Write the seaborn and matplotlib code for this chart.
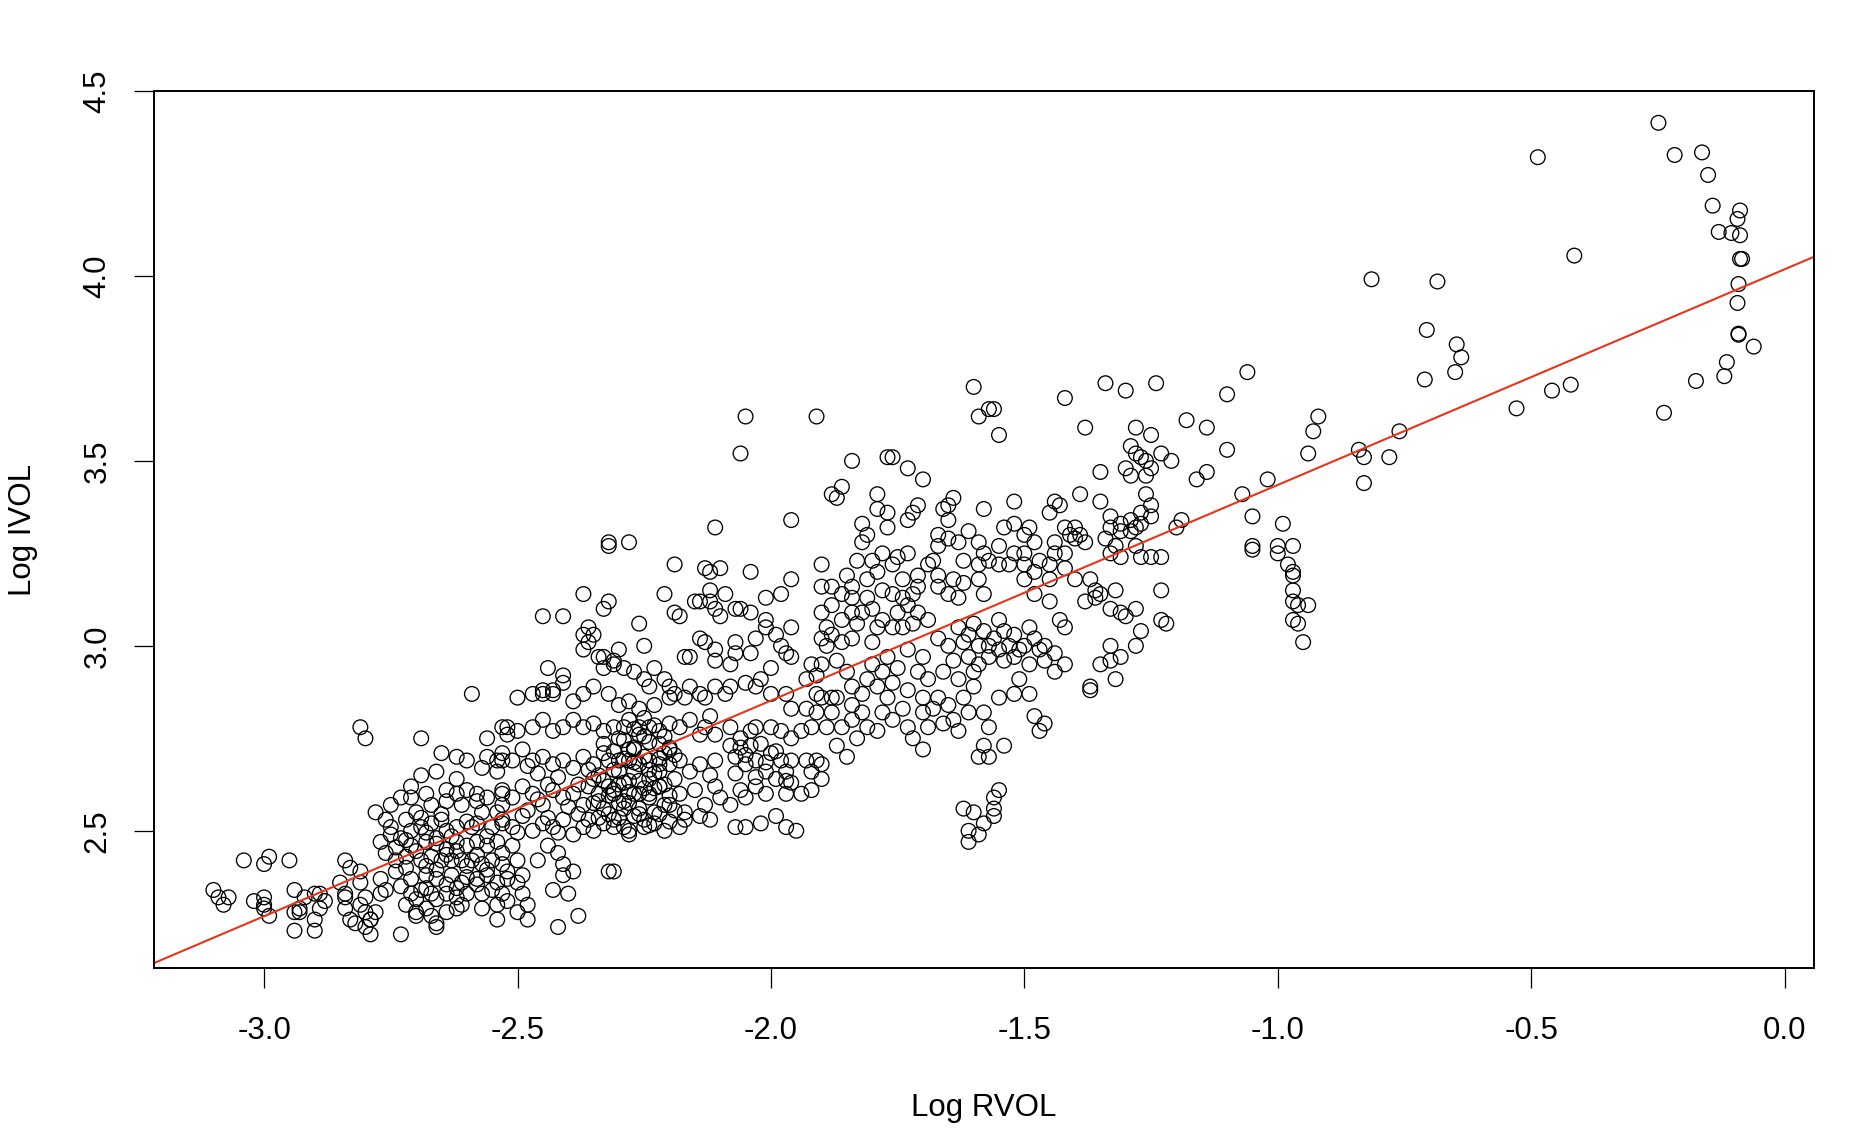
import numpy as np
import pandas as pd
import matplotlib
matplotlib.use("Agg")
import matplotlib.pyplot as plt
import seaborn as sns

# (log RVOL, log IVOL) pairs
left_tail = [
    (-3.10, 2.34), (-3.09, 2.32), (-3.08, 2.30), (-3.07, 2.32), (-3.04, 2.42),
    (-3.00, 2.41), (-2.99, 2.43), (-2.95, 2.42), (-3.02, 2.31), (-3.00, 2.32),
    (-3.00, 2.30), (-3.00, 2.29), (-2.99, 2.27), (-2.94, 2.34), (-2.94, 2.28),
    (-2.93, 2.28), (-2.94, 2.23), (-2.90, 2.23), (-2.92, 2.32), (-2.90, 2.33),
    (-2.89, 2.33), (-2.88, 2.31), (-2.89, 2.29), (-2.90, 2.26), (-2.93, 2.29),
    (-2.84, 2.42), (-2.83, 2.40), (-2.81, 2.39), (-2.81, 2.36), (-2.85, 2.36),
    (-2.84, 2.33), (-2.84, 2.32), (-2.84, 2.29), (-2.83, 2.26), (-2.82, 2.25),
    (-2.80, 2.32), (-2.81, 2.30), (-2.80, 2.28), (-2.79, 2.26), (-2.80, 2.24),
    (-2.79, 2.22), (-2.79, 2.26), (-2.78, 2.28), (-2.76, 2.34), (-2.77, 2.33),
    (-2.77, 2.37), (-2.73, 2.22), (-2.81, 2.78), (-2.80, 2.75),
]

low_blob = [
    (-2.59, 2.87), (-2.69, 2.75), (-2.56, 2.75), (-2.53, 2.78), (-2.52, 2.76),
    (-2.65, 2.71), (-2.62, 2.70), (-2.60, 2.69), (-2.56, 2.70), (-2.57, 2.67),
    (-2.54, 2.69), (-2.54, 2.66), (-2.53, 2.69), (-2.66, 2.66), (-2.69, 2.65),
    (-2.71, 2.62), (-2.62, 2.64), (-2.64, 2.61), (-2.62, 2.60), (-2.60, 2.61),
    (-2.58, 2.60), (-2.56, 2.59), (-2.53, 2.60), (-2.53, 2.57), (-2.75, 2.57),
    (-2.73, 2.59), (-2.71, 2.59), (-2.68, 2.60), (-2.67, 2.57), (-2.64, 2.58),
    (-2.61, 2.57), (-2.58, 2.58), (-2.57, 2.55), (-2.54, 2.55), (-2.78, 2.55),
    (-2.76, 2.53), (-2.75, 2.51), (-2.72, 2.53), (-2.70, 2.55), (-2.69, 2.51),
    (-2.67, 2.52), (-2.65, 2.53), (-2.64, 2.50), (-2.62, 2.51), (-2.59, 2.51),
    (-2.58, 2.52), (-2.55, 2.51), (-2.53, 2.52), (-2.77, 2.47), (-2.75, 2.49),
    (-2.73, 2.48), (-2.71, 2.50), (-2.71, 2.46), (-2.68, 2.47), (-2.66, 2.48),
    (-2.64, 2.45), (-2.62, 2.47), (-2.60, 2.46), (-2.58, 2.47), (-2.56, 2.46),
    (-2.54, 2.47), (-2.76, 2.44), (-2.74, 2.42), (-2.72, 2.43), (-2.69, 2.42),
    (-2.67, 2.43), (-2.65, 2.42), (-2.63, 2.42), (-2.61, 2.42), (-2.59, 2.42),
    (-2.57, 2.41), (-2.55, 2.42), (-2.53, 2.41), (-2.74, 2.39), (-2.72, 2.40),
    (-2.71, 2.37), (-2.68, 2.38), (-2.66, 2.37), (-2.63, 2.38), (-2.61, 2.36),
    (-2.58, 2.37), (-2.56, 2.38), (-2.54, 2.36), (-2.52, 2.37), (-2.73, 2.35),
    (-2.71, 2.33), (-2.69, 2.34), (-2.67, 2.33), (-2.64, 2.33), (-2.62, 2.32),
    (-2.60, 2.33), (-2.57, 2.33), (-2.55, 2.34), (-2.53, 2.33), (-2.72, 2.30),
    (-2.70, 2.28), (-2.68, 2.29), (-2.67, 2.27), (-2.66, 2.25), (-2.66, 2.24),
    (-2.64, 2.28), (-2.62, 2.29), (-2.61, 2.30), (-2.57, 2.29), (-2.54, 2.26),
    (-2.54, 2.30), (-2.70, 2.27),
    (-2.70, 2.315), (-2.68, 2.345), (-2.66, 2.315), (-2.64, 2.355),
    (-2.62, 2.345), (-2.60, 2.375), (-2.58, 2.355), (-2.56, 2.395),
    (-2.68, 2.405), (-2.66, 2.395), (-2.64, 2.435), (-2.62, 2.445),
    (-2.60, 2.405), (-2.58, 2.435), (-2.70, 2.445), (-2.72, 2.475),
    (-2.68, 2.495), (-2.66, 2.465), (-2.63, 2.485), (-2.60, 2.525),
    (-2.65, 2.545), (-2.69, 2.535), (-2.56, 2.485), (-2.74, 2.455),
]

mid_upper = [
    (-2.19, 3.22), (-2.13, 3.21), (-2.12, 3.20), (-2.10, 3.21), (-2.04, 3.20),
    (-1.96, 3.18), (-2.37, 3.14), (-2.32, 3.12), (-2.33, 3.10), (-2.21, 3.14),
    (-2.19, 3.09), (-2.18, 3.08), (-2.15, 3.12), (-2.14, 3.12), (-2.12, 3.15),
    (-2.12, 3.12), (-2.11, 3.10), (-2.09, 3.14), (-2.10, 3.08), (-2.07, 3.10),
    (-2.06, 3.10), (-2.04, 3.09), (-2.01, 3.13), (-2.01, 3.07), (-1.98, 3.14),
    (-1.99, 3.03), (-2.45, 3.08), (-2.41, 3.08), (-2.26, 3.06), (-2.25, 3.00),
    (-2.37, 3.03), (-2.36, 3.05), (-2.35, 3.03), (-2.36, 3.01), (-2.37, 2.99),
    (-2.34, 2.97), (-2.33, 2.97), (-2.31, 2.96), (-2.30, 2.99), (-2.33, 2.94),
    (-2.31, 2.95), (-2.44, 2.94), (-2.41, 2.92), (-2.41, 2.90), (-2.43, 2.87),
    (-2.45, 2.87), (-2.50, 2.86), (-2.29, 2.94), (-2.27, 2.93), (-2.25, 2.91),
    (-2.23, 2.94), (-2.21, 2.91), (-2.20, 2.89), (-2.24, 2.89), (-2.17, 2.97),
    (-2.16, 2.97), (-2.14, 3.02), (-2.13, 3.01), (-2.11, 2.96), (-2.11, 2.99),
    (-2.08, 2.95), (-2.07, 3.01), (-2.07, 2.98), (-2.04, 2.98), (-2.03, 3.02),
    (-2.01, 3.05), (-2.00, 2.94), (-1.98, 3.00), (-1.96, 3.05), (-1.96, 2.97),
    (-1.97, 2.98), (-1.92, 2.95), (-1.91, 2.92), (-1.93, 2.91),
    (-2.05, 3.62), (-1.91, 3.62), (-2.06, 3.52), (-1.96, 3.34), (-2.11, 3.32),
    (-2.32, 3.28), (-2.32, 3.27), (-2.28, 3.28),
]

mid_core = [
    (-2.47, 2.87), (-2.45, 2.88), (-2.43, 2.88), (-2.39, 2.85), (-2.37, 2.87),
    (-2.35, 2.89), (-2.32, 2.87), (-2.30, 2.84), (-2.28, 2.85), (-2.26, 2.83),
    (-2.23, 2.84), (-2.20, 2.86), (-2.19, 2.87), (-2.17, 2.86), (-2.16, 2.89),
    (-2.14, 2.87), (-2.13, 2.86), (-2.11, 2.89), (-2.09, 2.87), (-2.08, 2.89),
    (-2.05, 2.90), (-2.03, 2.89), (-2.02, 2.91), (-2.00, 2.87), (-1.97, 2.87),
    (-1.96, 2.83), (-1.93, 2.83), (-1.91, 2.87),
    (-2.52, 2.78), (-2.50, 2.77), (-2.47, 2.78), (-2.45, 2.80), (-2.43, 2.77),
    (-2.41, 2.78), (-2.39, 2.80), (-2.37, 2.78), (-2.35, 2.79), (-2.33, 2.77),
    (-2.31, 2.78), (-2.29, 2.78), (-2.28, 2.80), (-2.26, 2.76), (-2.24, 2.78),
    (-2.22, 2.77), (-2.20, 2.79), (-2.18, 2.78), (-2.16, 2.80), (-2.14, 2.76),
    (-2.13, 2.78), (-2.12, 2.81), (-2.11, 2.76), (-2.08, 2.78), (-2.06, 2.75),
    (-2.04, 2.77), (-2.03, 2.78), (-2.00, 2.78), (-1.98, 2.77), (-1.96, 2.75),
    (-1.94, 2.77), (-1.92, 2.78),
    (-2.53, 2.71), (-2.51, 2.69), (-2.49, 2.72), (-2.47, 2.69), (-2.45, 2.70),
    (-2.43, 2.68), (-2.41, 2.69), (-2.39, 2.67), (-2.37, 2.70), (-2.35, 2.68),
    (-2.34, 2.65), (-2.32, 2.69), (-2.30, 2.66), (-2.28, 2.69), (-2.27, 2.72),
    (-2.26, 2.68), (-2.24, 2.69), (-2.22, 2.66), (-2.21, 2.71), (-2.20, 2.68),
    (-2.18, 2.69), (-2.16, 2.66), (-2.14, 2.68), (-2.12, 2.65), (-2.11, 2.69),
    (-2.08, 2.73), (-2.07, 2.70), (-2.05, 2.68), (-2.04, 2.73), (-2.03, 2.69),
    (-2.01, 2.66), (-2.00, 2.71), (-1.98, 2.69), (-1.97, 2.66), (-1.96, 2.69),
    (-1.93, 2.69), (-1.92, 2.66),
    (-2.53, 2.61), (-2.51, 2.59), (-2.49, 2.62), (-2.47, 2.60), (-2.45, 2.57),
    (-2.43, 2.61), (-2.41, 2.59), (-2.39, 2.60), (-2.37, 2.57), (-2.36, 2.62),
    (-2.34, 2.60), (-2.33, 2.56), (-2.31, 2.61), (-2.29, 2.58), (-2.27, 2.60),
    (-2.26, 2.56), (-2.24, 2.59), (-2.22, 2.62), (-2.20, 2.57), (-2.18, 2.60),
    (-2.17, 2.55), (-2.15, 2.61), (-2.13, 2.57), (-2.11, 2.62), (-2.10, 2.59),
    (-2.08, 2.57), (-2.06, 2.61), (-2.05, 2.59), (-2.03, 2.62), (-2.01, 2.60),
    (-1.99, 2.64), (-1.97, 2.60), (-1.96, 2.63), (-1.94, 2.60), (-1.92, 2.61),
    (-2.31, 2.60), (-2.29, 2.63), (-2.27, 2.66), (-2.25, 2.70), (-2.24, 2.74),
    (-2.26, 2.78), (-2.28, 2.72), (-2.30, 2.69), (-2.32, 2.62), (-2.22, 2.62),
    (-2.21, 2.57), (-2.23, 2.55), (-2.25, 2.53), (-2.27, 2.54), (-2.29, 2.56),
    (-2.26, 2.60), (-2.24, 2.64), (-2.22, 2.68), (-2.20, 2.72), (-2.19, 2.64),
    (-2.30, 2.75), (-2.33, 2.71), (-2.35, 2.64), (-2.34, 2.58), (-2.36, 2.53),
    (-2.31, 2.53), (-2.28, 2.50), (-2.24, 2.60),
]

# the darkest part of the cloud, just under the fitted line
dense_core = [
    (-2.32, 2.545), (-2.30, 2.575), (-2.28, 2.605), (-2.26, 2.635),
    (-2.24, 2.665), (-2.22, 2.695), (-2.20, 2.725), (-2.21, 2.755),
    (-2.23, 2.785), (-2.25, 2.755), (-2.27, 2.725), (-2.29, 2.695),
    (-2.31, 2.665), (-2.33, 2.635), (-2.32, 2.595), (-2.30, 2.625),
    (-2.28, 2.575), (-2.26, 2.545), (-2.24, 2.515), (-2.22, 2.545),
    (-2.20, 2.595), (-2.21, 2.625), (-2.23, 2.655), (-2.25, 2.615),
    (-2.27, 2.685), (-2.29, 2.745), (-2.25, 2.805), (-2.22, 2.735),
    (-2.19, 2.705), (-2.19, 2.555), (-2.20, 2.525), (-2.34, 2.535),
    (-2.35, 2.575), (-2.36, 2.665), (-2.33, 2.735), (-2.31, 2.715),
    (-2.27, 2.775), (-2.23, 2.615), (-2.28, 2.635), (-2.30, 2.535),
    (-2.48, 2.555), (-2.46, 2.585), (-2.44, 2.625), (-2.42, 2.645),
    (-2.40, 2.565), (-2.38, 2.625), (-2.46, 2.655), (-2.48, 2.675),
    (-2.44, 2.535), (-2.42, 2.495), (-2.50, 2.495), (-2.38, 2.545),
    (-2.07, 2.655), (-2.05, 2.705), (-2.03, 2.645), (-2.01, 2.685),
    (-1.99, 2.715), (-1.97, 2.635), (-2.06, 2.725), (-2.02, 2.735),
]

mid_lower = [
    (-2.53, 2.53), (-2.51, 2.51), (-2.49, 2.54), (-2.47, 2.50), (-2.45, 2.52),
    (-2.43, 2.51), (-2.41, 2.53), (-2.39, 2.49), (-2.37, 2.51), (-2.35, 2.50),
    (-2.33, 2.52), (-2.31, 2.51), (-2.29, 2.51), (-2.28, 2.49), (-2.25, 2.51),
    (-2.23, 2.52), (-2.21, 2.50), (-2.18, 2.51), (-2.17, 2.53), (-2.14, 2.54),
    (-2.12, 2.53), (-2.07, 2.51), (-2.05, 2.51), (-2.02, 2.52), (-1.97, 2.51),
    (-1.95, 2.50), (-1.99, 2.54),
    (-2.53, 2.44), (-2.51, 2.46), (-2.50, 2.42), (-2.52, 2.39), (-2.50, 2.36),
    (-2.49, 2.38), (-2.49, 2.33), (-2.48, 2.30), (-2.50, 2.28), (-2.48, 2.26),
    (-2.42, 2.44), (-2.41, 2.41), (-2.41, 2.38), (-2.39, 2.39), (-2.43, 2.34),
    (-2.40, 2.33), (-2.38, 2.27), (-2.42, 2.24), (-2.52, 2.31), (-2.32, 2.39),
    (-2.31, 2.39), (-2.46, 2.42), (-2.44, 2.46),
]

right_mid_upper = [
    (-1.60, 3.70), (-1.59, 3.62), (-1.57, 3.64), (-1.56, 3.64), (-1.55, 3.57),
    (-1.42, 3.67), (-1.34, 3.71), (-1.30, 3.69), (-1.38, 3.59), (-1.28, 3.59),
    (-1.84, 3.50), (-1.77, 3.51), (-1.76, 3.51), (-1.73, 3.48), (-1.70, 3.45),
    (-1.88, 3.41), (-1.86, 3.43), (-1.87, 3.40), (-1.79, 3.41), (-1.35, 3.47),
    (-1.30, 3.48), (-1.29, 3.46), (-1.29, 3.54), (-1.28, 3.52), (-1.82, 3.33),
    (-1.81, 3.30), (-1.77, 3.32), (-1.79, 3.37), (-1.77, 3.36), (-1.73, 3.34),
    (-1.71, 3.38), (-1.72, 3.36), (-1.66, 3.37), (-1.64, 3.40), (-1.65, 3.38),
    (-1.65, 3.34), (-1.58, 3.37), (-1.52, 3.39), (-1.49, 3.32), (-1.44, 3.39),
    (-1.43, 3.38), (-1.39, 3.41), (-1.45, 3.36), (-1.42, 3.32), (-1.41, 3.30),
    (-1.40, 3.29), (-1.38, 3.28), (-1.44, 3.28), (-1.44, 3.25), (-1.42, 3.25),
    (-1.40, 3.32), (-1.39, 3.30), (-1.35, 3.39), (-1.33, 3.35), (-1.31, 3.33),
    (-1.29, 3.34), (-1.28, 3.32), (-1.27, 3.36), (-1.33, 3.32), (-1.31, 3.31),
    (-1.29, 3.31), (-1.27, 3.33), (-1.34, 3.29), (-1.32, 3.27), (-1.33, 3.25),
    (-1.31, 3.24), (-1.28, 3.27), (-1.27, 3.24),
]

right_mid_core = [
    (-1.82, 3.28), (-1.83, 3.23), (-1.80, 3.23), (-1.81, 3.18), (-1.78, 3.25),
    (-1.76, 3.22), (-1.75, 3.24), (-1.74, 3.18), (-1.76, 3.14), (-1.74, 3.13),
    (-1.73, 3.11), (-1.73, 3.25), (-1.71, 3.19), (-1.69, 3.22), (-1.68, 3.23),
    (-1.67, 3.27), (-1.67, 3.19), (-1.71, 3.16), (-1.72, 3.14),
    (-1.90, 3.22), (-1.90, 3.16), (-1.88, 3.16), (-1.86, 3.14), (-1.84, 3.16),
    (-1.84, 3.13), (-1.88, 3.11), (-1.90, 3.09), (-1.86, 3.07), (-1.89, 3.05),
    (-1.90, 3.02), (-1.89, 3.00), (-1.88, 3.03), (-1.87, 2.96), (-1.90, 2.95),
    (-1.84, 3.09), (-1.82, 3.09), (-1.80, 3.10), (-1.79, 3.05), (-1.78, 3.07),
    (-1.76, 3.05), (-1.75, 3.09), (-1.74, 3.05), (-1.72, 3.06), (-1.71, 3.09),
    (-1.69, 3.07),
    (-1.67, 3.30), (-1.65, 3.29), (-1.63, 3.28), (-1.61, 3.31), (-1.59, 3.28),
    (-1.58, 3.25), (-1.57, 3.23), (-1.55, 3.27), (-1.54, 3.32), (-1.52, 3.33),
    (-1.50, 3.30), (-1.48, 3.28), (-1.47, 3.23), (-1.45, 3.22), (-1.42, 3.21),
    (-1.40, 3.18), (-1.50, 3.25), (-1.52, 3.25), (-1.55, 3.22), (-1.59, 3.22),
    (-1.62, 3.23), (-1.64, 3.18), (-1.62, 3.17), (-1.59, 3.18), (-1.58, 3.14),
    (-1.63, 3.13), (-1.65, 3.14), (-1.67, 3.16),
    (-1.53, 3.22), (-1.50, 3.22), (-1.50, 3.18), (-1.48, 3.20), (-1.45, 3.18),
    (-1.37, 3.18), (-1.36, 3.15), (-1.36, 3.13), (-1.38, 3.12), (-1.35, 3.14),
    (-1.33, 3.10), (-1.31, 3.09), (-1.30, 3.08), (-1.32, 3.15), (-1.28, 3.10),
    (-1.27, 3.04), (-1.43, 3.07), (-1.45, 3.12), (-1.48, 3.14), (-1.42, 3.05),
    (-1.86, 3.01), (-1.83, 3.06), (-1.81, 3.13), (-1.78, 3.15), (-1.85, 3.19),
    (-1.79, 3.20), (-1.62, 3.01), (-1.56, 3.02), (-1.51, 2.99), (-1.48, 3.02),
    (-1.55, 2.99), (-1.60, 3.06),
]

right_mid_lower = [
    (-1.67, 3.02), (-1.65, 3.00), (-1.63, 3.05), (-1.61, 3.03), (-1.59, 3.00),
    (-1.58, 3.04), (-1.57, 3.00), (-1.55, 3.07), (-1.54, 3.04), (-1.53, 3.00),
    (-1.52, 3.03), (-1.50, 3.00), (-1.49, 3.05), (-1.47, 2.99), (-1.46, 3.00),
    (-1.44, 2.98), (-1.64, 2.96), (-1.61, 2.97), (-1.59, 2.95), (-1.57, 2.97),
    (-1.54, 2.96), (-1.52, 2.97), (-1.49, 2.95), (-1.60, 2.93), (-1.63, 2.91),
    (-1.66, 2.93), (-1.69, 2.91), (-1.71, 2.93), (-1.75, 2.94), (-1.78, 2.93),
    (-1.80, 2.95), (-1.81, 2.91), (-1.84, 2.89), (-1.87, 2.86), (-1.84, 2.84),
    (-1.82, 2.82), (-1.86, 2.78), (-1.83, 2.75), (-1.81, 2.78), (-1.78, 2.82),
    (-1.77, 2.86), (-1.74, 2.83), (-1.73, 2.78), (-1.70, 2.82), (-1.67, 2.86),
    (-1.69, 2.78), (-1.66, 2.79), (-1.70, 2.72), (-1.63, 2.77), (-1.61, 2.82),
    (-1.58, 2.82), (-1.57, 2.78), (-1.58, 2.73), (-1.59, 2.70), (-1.57, 2.70),
    (-1.54, 2.73), (-1.55, 2.86), (-1.52, 2.87), (-1.49, 2.87), (-1.48, 2.81),
    (-1.46, 2.79), (-1.47, 2.77), (-1.51, 2.91), (-1.44, 2.93), (-1.42, 2.95),
    (-1.46, 2.96), (-1.37, 2.89), (-1.37, 2.88), (-1.35, 2.95), (-1.33, 2.96),
    (-1.32, 2.91), (-1.33, 3.00), (-1.31, 2.97), (-1.28, 3.00),
    (-1.85, 2.93), (-1.82, 2.87), (-1.79, 2.89), (-1.76, 2.90), (-1.73, 2.88),
    (-1.70, 2.86), (-1.68, 2.83), (-1.65, 2.84), (-1.62, 2.86), (-1.60, 2.89),
    (-1.64, 2.80), (-1.76, 2.80), (-1.79, 2.77), (-1.72, 2.75), (-1.84, 2.80),
    (-1.77, 2.97), (-1.73, 2.99), (-1.70, 2.97), (-1.80, 3.01), (-1.84, 3.02),
    (-1.55, 2.61), (-1.56, 2.59), (-1.56, 2.56), (-1.56, 2.54), (-1.62, 2.56),
    (-1.60, 2.55), (-1.58, 2.52), (-1.61, 2.50), (-1.61, 2.47), (-1.59, 2.49),
    (-1.90, 2.86), (-1.91, 2.82), (-1.89, 2.78), (-1.91, 2.69), (-1.90, 2.64),
    (-1.90, 2.68), (-1.87, 2.73), (-1.85, 2.70), (-1.88, 2.82), (-1.88, 2.86),
]

upper_arm = [
    (-1.24, 3.71), (-1.25, 3.57), (-1.27, 3.51), (-1.26, 3.50), (-1.23, 3.52),
    (-1.21, 3.50), (-1.26, 3.46), (-1.25, 3.48), (-1.26, 3.41), (-1.25, 3.38),
    (-1.25, 3.35), (-1.20, 3.32), (-1.19, 3.34), (-1.25, 3.24), (-1.23, 3.24),
    (-1.23, 3.15), (-1.23, 3.07), (-1.22, 3.06),
    (-1.06, 3.74), (-1.10, 3.68), (-1.18, 3.61), (-1.14, 3.59), (-1.10, 3.53),
    (-1.16, 3.45), (-1.14, 3.47), (-1.07, 3.41), (-1.02, 3.45), (-1.05, 3.35),
    (-0.99, 3.33), (-1.05, 3.26), (-1.05, 3.27), (-1.00, 3.27), (-1.00, 3.25),
    (-0.97, 3.27), (-0.98, 3.22), (-0.97, 3.20), (-0.97, 3.19), (-0.97, 3.15),
    (-0.97, 3.12), (-0.96, 3.11), (-0.94, 3.11), (-0.97, 3.07), (-0.96, 3.06),
    (-0.95, 3.01), (-0.92, 3.62), (-0.93, 3.58), (-0.94, 3.52), (-0.84, 3.53),
    (-0.83, 3.51), (-0.83, 3.44), (-0.76, 3.58), (-0.78, 3.51), (-0.71, 3.72),
    (-0.65, 3.74),
]

right_tail = [
    (-0.249, 4.414), (-0.487, 4.321), (-0.217, 4.327), (-0.163, 4.334),
    (-0.151, 4.273), (-0.142, 4.190), (-0.088, 4.177), (-0.093, 4.154),
    (-0.130, 4.119), (-0.105, 4.116), (-0.088, 4.110), (-0.088, 4.046),
    (-0.084, 4.046), (-0.091, 3.978), (-0.093, 3.927), (-0.091, 3.844),
    (-0.091, 3.841), (-0.061, 3.809), (-0.114, 3.767), (-0.119, 3.729),
    (-0.175, 3.716), (-0.238, 3.630), (-0.459, 3.690), (-0.422, 3.706),
    (-0.415, 4.055), (-0.815, 3.991), (-0.685, 3.985), (-0.706, 3.854),
    (-0.647, 3.815), (-0.638, 3.780), (-0.529, 3.642),
]

# fitted line (intercept, slope) as drawn in the reference
fit_intercept = 4.018
fit_slope = 0.583

x_ticks = [-3.0, -2.5, -2.0, -1.5, -1.0, -0.5, 0.0]
y_ticks = [2.5, 3.0, 3.5, 4.0, 4.5]
x_limits = (-3.217, 0.058)
y_limits = (2.129, 4.500)

points = (left_tail + low_blob + mid_upper + mid_core + dense_core + mid_lower
          + right_mid_upper + right_mid_core + right_mid_lower
          + upper_arm + right_tail)
df = pd.DataFrame(points, columns=["log_rvol", "log_ivol"])

sns.set_theme(style="white")
plt.rcParams["font.family"] = ["Liberation Sans", "DejaVu Sans"]
plt.rcParams["axes.unicode_minus"] = False

fig = plt.figure(figsize=(18.52, 11.46), dpi=100)
ax = fig.add_axes([0.0832, 0.1553, 0.8963, 0.7653])

sns.scatterplot(data=df, x="log_rvol", y="log_ivol", ax=ax, marker="o",
                s=112, facecolor="none", edgecolor="black", linewidth=0.95)
ax.axline((0, fit_intercept), slope=fit_slope, color="#e8341c", lw=1.5)

ax.set_xlim(*x_limits)
ax.set_ylim(*y_limits)
ax.set_xticks(x_ticks, labels=[f"{v:.1f}" for v in x_ticks])
ax.set_yticks(y_ticks, labels=[f"{v:.1f}" for v in y_ticks],
              rotation=90, va="center")

ax.tick_params(axis="both", direction="out", length=14.2, width=0.9,
               color="black", labelsize=22.5, labelcolor="black")
ax.tick_params(axis="x", pad=20, bottom=True)
ax.tick_params(axis="y", pad=15.7, left=True)

for side in ax.spines.values():
    side.set_color("black")
    side.set_linewidth(1.4)

ax.set_xlabel("Log RVOL", fontsize=22.5, color="black", va="center")
ax.set_ylabel("Log IVOL", fontsize=22.5, color="black", va="center")
ax.xaxis.set_label_coords(0.5, -0.1595)
ax.yaxis.set_label_coords(-0.0792, 0.5)

fig.savefig("out.png", dpi=100, facecolor="white")
